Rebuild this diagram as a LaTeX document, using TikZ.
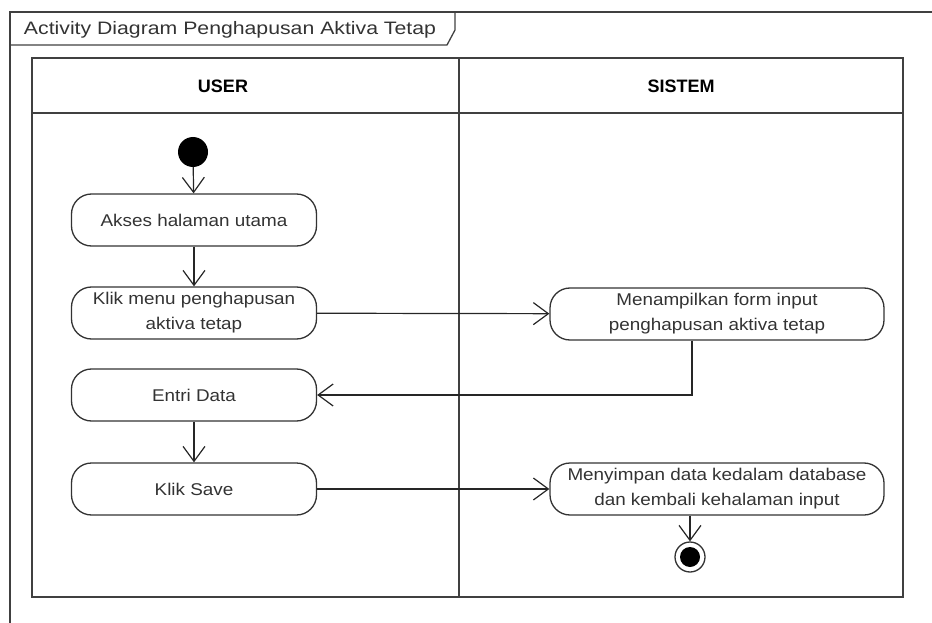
\documentclass[tikz,border=0pt]{standalone}
\usepackage{fontspec}
\setmainfont{Liberation Sans}
\newfontfamily\rotulo[FakeStretch=1.11]{Liberation Sans}
\newfontfamily\titulo[FakeStretch=1.18]{Liberation Sans}
\usetikzlibrary{arrows.meta,positioning}

\begin{document}
\begin{tikzpicture}[x=1pt,y=-1pt,
    borda/.style={draw=black!75, line width=1.3pt},
    acao/.style={draw=black!80, line width=1.3pt, rounded corners=20pt,
      minimum width=245pt, minimum height=52pt, inner sep=0pt, align=center,
      font=\rotulo\fontsize{17}{25}\selectfont, text=black!80},
    seta/.style={draw=black!85, line width=1.2pt,
      -{Straight Barb[length=15pt,width=22pt,line width=1.2pt]}}]
        \useasboundingbox (0,0) rectangle (932,623);

        % Moldura
        \draw[borda] (932,12) -- (10,12) -- (10,623);
        \draw[borda] (10,45) -- (447,45) -- (455,30) -- (455,12);
        \node[font=\titulo\fontsize{18}{22}\selectfont, text=black!80] (judul) at (230,30)
        {Activity Diagram Penghapusan Aktiva Tetap};

        % Raias
        \draw[borda] (32,58) rectangle (903,597);
        \draw[borda] (32,113) -- (903,113);
        \draw[borda] (459,58) -- (459,597);
        \node[font=\bfseries\fontsize{18}{20}\selectfont] (user) at (223,86) {USER};
        \node[font=\bfseries\fontsize{18}{20}\selectfont] (sistem) at (681,86) {SISTEM};

        % Atividades
        \node[circle, fill=black, minimum size=30pt, inner sep=0pt] (mulai) at (193,152) {};
        \node[acao] (akses) at (194,220) {Akses halaman utama};
        \node[acao] (klikmenu) at (194,313) {Klik menu penghapusan\\aktiva tetap};
        \node[acao] (entri) at (194,395) {Entri Data};
        \node[acao] (klikSave) at (194,489) {Klik Save};
        \node[acao, minimum width=334pt] (tampil) at (717,314) {Menampilkan form input\\penghapusan aktiva tetap};
        \node[acao, minimum width=334pt] (simpan) at (717,489) {Menyimpan data kedalam database\\dan kembali kehalaman input};
        \node[circle, draw=black!80, line width=1.3pt, minimum size=30pt, inner sep=0pt] (selesai) at (690,557) {};
        \fill[black] (selesai.center) circle (10pt);

        % Transicoes
        \draw[seta] (mulai) -- (akses);
        \draw[seta] (akses) -- (klikmenu);
        \draw[seta] (klikmenu) -- (tampil);
        \draw[seta] ([xshift=-25pt]tampil.south) |- (entri);
        \draw[seta] (entri) -- (klikSave);
        \draw[seta] (klikSave) -- (simpan);
        \draw[seta] (simpan.south -| selesai) -- (selesai);
    \end{tikzpicture}
\end{document}
